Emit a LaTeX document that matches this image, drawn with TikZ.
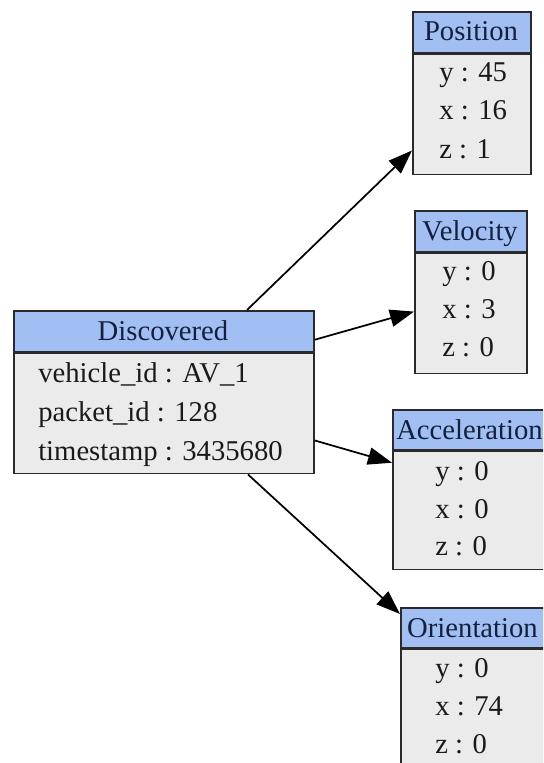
\documentclass[tikz,border=0pt]{standalone}
\usepackage{fontspec}
\setmainfont{Liberation Serif}
\usetikzlibrary{arrows.meta,calc}
\definecolor{headfill}{HTML}{A2BFF3}
\definecolor{bodyfill}{HTML}{EBEBEB}
\definecolor{headtext}{HTML}{14213D}
\definecolor{rowtext}{HTML}{1A1A1A}
\definecolor{edgeline}{HTML}{2A2A2A}
\begin{document}
\begin{tikzpicture}[x=0.75pt,y=-0.75pt,
  font=\fontsize{21.5}{26}\selectfont,
  head/.style={draw=edgeline,line width=1.3pt,fill=headfill,anchor=north west,
    inner sep=0pt,minimum height=41*0.75pt},
  bodybox/.style={draw=edgeline,line width=1.3pt,fill=bodyfill,anchor=north west,
    inner sep=0pt,minimum height=120*0.75pt},
  title/.style={anchor=base,inner sep=0pt,text=headtext},
  row/.style={anchor=base west,inner sep=0pt,text=rowtext},
  link/.style={line width=1.3pt,black,-{Triangle[length=18pt,width=13pt]}}]
\clip (0,0) rectangle (543,763);
\fill[white] (0,0) rectangle (543,763);

% Discovered record
\node[head,minimum width=300*0.75pt] (discH) at (13,310) {};
\node[bodybox,minimum width=300*0.75pt] (discB) at (discH.south west) {};
\node[title] (discT) at (163,340) {Discovered};
\node[row] (discR1) at (38,382) {vehicle\_id : AV\_1};
\node[row] (discR2) at (38,421) {packet\_id : 128};
\node[row] (discR3) at (38,460) {timestamp : 3435680};

% Position record
\node[head,minimum width=118*0.75pt] (posH) at (412,11) {};
\node[bodybox,minimum width=118*0.75pt] (posB) at (posH.south west) {};
\node[title] (posT) at (471,41) {Position};
\node[row] (posR1) at (439,82) {y : 45};
\node[row] (posR2) at (439,120) {x : 16};
\node[row] (posR3) at (439,158) {z : 1};

% Velocity record
\node[head,minimum width=112*0.75pt] (velH) at (414,210) {};
\node[bodybox,minimum width=112*0.75pt] (velB) at (velH.south west) {};
\node[title] (velT) at (470,240) {Velocity};
\node[row] (velR1) at (442,280) {y : 0};
\node[row] (velR2) at (442,318) {x : 3};
\node[row] (velR3) at (442,356) {z : 0};

% Acceleration record
\node[head,minimum width=155*0.75pt,minimum height=40*0.75pt] (accH) at (392,409) {};
\node[bodybox,minimum width=155*0.75pt,minimum height=118*0.75pt] (accB) at (accH.south west) {};
\node[title] (accT) at (469.5,439) {Acceleration};
\node[row] (accR1) at (435,480) {y : 0};
\node[row] (accR2) at (435,518) {x : 0};
\node[row] (accR3) at (435,555) {z : 0};

% Orientation record
\node[head,minimum width=145*0.75pt,minimum height=40*0.75pt] (oriH) at (400,607) {};
\node[bodybox,minimum width=145*0.75pt] (oriB) at (oriH.south west) {};
\node[title] (oriT) at (472.5,637) {Orientation};
\node[row] (oriR1) at (435,677) {y : 0};
\node[row] (oriR2) at (435,715) {x : 74};
\node[row] (oriR3) at (435,753) {z : 0};

% Links from Discovered to its parts
\draw[link] ($(discH.north west)+(234,0)$) -- ($(posB.south west)+(0,-25)$);
\draw[link] ($(discH.south east)+(0,-13)$) -- ($(velB.west)+(0,-2)$);
\draw[link] ($(discB.south east)+(0,-34)$) -- ($(accB.north west)+(0,12)$);
\draw[link] ($(discB.south west)+(235,0)$) -- ($(oriH.north west)+(0,7)$);
\end{tikzpicture}
\end{document}
